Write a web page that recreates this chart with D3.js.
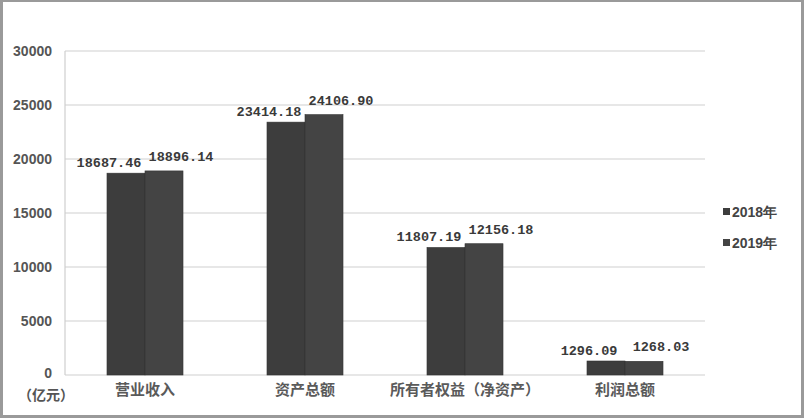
<!DOCTYPE html>
<html><head><meta charset="utf-8">
<script src="https://cdn.jsdelivr.net/npm/d3@7/dist/d3.min.js"></script>
<style>
html,body{margin:0;padding:0;background:#fff;}
svg{display:block;}
</style></head>
<body>
<svg id="chart" width="804" height="418"></svg>
<script>
const categories = ["营业收入", "资产总额", "所有者权益（净资产）", "利润总额"];
const seriesNames = ["2018年", "2019年"];
const values2018 = [18687.46, 23414.18, 11807.19, 1296.09];
const values2019 = [18896.14, 24106.90, 12156.18, 1268.03];
const labels2018 = ["18687.46", "23414.18", "11807.19", "1296.09"];
const labels2019 = ["18896.14", "24106.90", "12156.18", "1268.03"];
const yTicks = [0, 5000, 10000, 15000, 20000, 25000, 30000];
const unitLabel = "（亿元）";

(function(){
const svg = d3.select("#chart");
const W = 804, H = 418;
const mLeft = 65, mRight = 705, mTop = 51, mBottom = 375;

// frame
svg.append("rect").attr("x",1.5).attr("y",0.5).attr("width",W-3).attr("height",H-2)
  .attr("fill","#fff").attr("stroke","#9a9a9a").attr("stroke-width",3);

const x = d3.scaleBand().domain(categories).range([mLeft, mRight]).paddingInner(0).paddingOuter(0);
const x1 = d3.scaleBand().domain(seriesNames).range([0, x.bandwidth()]).paddingInner(0).paddingOuter(1.105);
const y = d3.scaleLinear().domain([0, 30000]).range([mBottom, mTop]);

// gridlines
svg.append("g").selectAll("line").data(yTicks).join("line")
  .attr("x1", mLeft).attr("x2", mRight)
  .attr("y1", d => y(d)).attr("y2", d => y(d))
  .attr("stroke", "#cfcfcf").attr("stroke-width", 1.2);
svg.append("line").attr("x1", mLeft).attr("x2", mLeft).attr("y1", mTop).attr("y2", mBottom)
  .attr("stroke", "#cfcfcf").attr("stroke-width", 1.2);

// y axis labels
const yAxis = d3.axisLeft(y).tickValues(yTicks).tickSize(0).tickPadding(13).tickFormat(d3.format("d"));
const ga = svg.append("g").attr("transform", `translate(${mLeft},0)`).call(yAxis);
ga.select(".domain").remove();
ga.selectAll("text").attr("font-family","Liberation Sans, Arial, sans-serif")
  .attr("font-size", 14).attr("font-weight", "bold").attr("fill", "#555");
ga.selectAll(".tick").filter(d => d === 0).select("text").attr("dy", "0.2em");

// unit label
svg.append("text").attr("x", 46).attr("y", 400).attr("text-anchor","middle")
  .attr("font-family","Noto Sans CJK SC, sans-serif").attr("font-size",14).attr("font-weight","bold")
  .attr("fill","#555").text(unitLabel);

// category labels
const gx = svg.append("g").attr("transform", `translate(0,${mBottom})`)
  .call(d3.axisBottom(x).tickSize(0).tickPadding(9));
gx.select(".domain").remove();
gx.selectAll("text").attr("font-family","Noto Sans CJK SC, sans-serif")
  .attr("font-size", 15).attr("font-weight","bold").attr("fill", "#5a5a5a");

// bars
const rows = categories.map((c, i) => ({c, vals: [
  {s: seriesNames[0], v: values2018[i], lab: labels2018[i]},
  {s: seriesNames[1], v: values2019[i], lab: labels2019[i]}
]}));
const colors = {"2018年": "#3d3d3d", "2019年": "#444444"};
const g = svg.append("g").selectAll("g").data(rows).join("g")
  .attr("transform", d => `translate(${x(d.c)},0)`);
g.selectAll("rect").data(d => d.vals).join("rect")
  .attr("x", d => x1(d.s)).attr("width", x1.bandwidth())
  .attr("y", d => y(d.v)).attr("height", d => y(0) - y(d.v))
  .attr("fill", d => colors[d.s]).attr("stroke","#333").attr("stroke-width",0.6);
g.selectAll("text").data(d => d.vals).join("text")
  .attr("x", (d, i) => x1(d.s) + x1.bandwidth()/2 + (i === 0 ? -17 : 17))
  .attr("y", (d, i) => y(d.v) - (i === 0 ? 6 : 10))
  .attr("text-anchor","middle")
  .attr("font-family","Liberation Mono, Courier New, monospace")
  .attr("font-size", 13.5).attr("font-weight","bold").attr("fill","#3a3a3a")
  .text(d => d.lab);

// legend
const lg = svg.append("g").selectAll("g").data(seriesNames).join("g")
  .attr("transform", (d, i) => `translate(723,${212 + i*31})`);
lg.append("rect").attr("x",0).attr("y",-4).attr("width",7).attr("height",7).attr("fill", d => colors[d]);
lg.append("text").attr("x",9).attr("y",0).attr("dy","0.35em")
  .attr("font-family","Liberation Sans, Arial, sans-serif").attr("font-size",14).attr("font-weight","bold")
  .attr("fill","#444").text(d => d);
})();
</script>
</body></html>
